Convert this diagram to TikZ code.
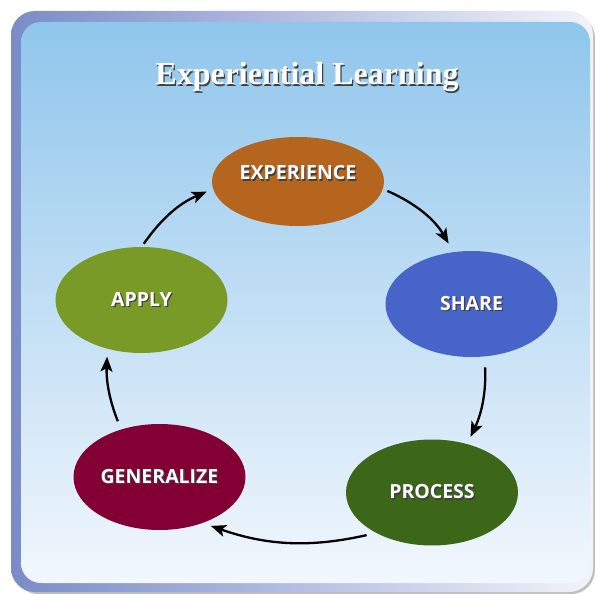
\documentclass[tikz,border=0pt]{standalone}
\usepackage{fontspec}
\setmainfont{Liberation Serif}
\newfontfamily\stagefont{Open Sans}
\usetikzlibrary{arrows.meta,shapes.geometric}

\definecolor{expcol}{RGB}{181,101,29}
\definecolor{sharecol}{RGB}{71,101,200}
\definecolor{proccol}{RGB}{60,103,25}
\definecolor{gencol}{RGB}{131,0,52}
\definecolor{applycol}{RGB}{122,154,40}
\definecolor{skytop}{RGB}{144,198,236}
\definecolor{skybot}{RGB}{242,247,253}
\definecolor{frameleft}{RGB}{122,140,200}
\definecolor{frameright}{RGB}{242,243,250}

% white text with a dark drop shadow
\newcommand{\shadowed}[1]{\rlap{\kern1.3pt\raisebox{-1.3pt}{\color{black!75}#1}}#1}

\begin{document}
\begin{tikzpicture}
[
x=1pt, y=1pt,
stage/.style={ellipse, inner sep=0pt, outer sep=0pt, minimum width=172pt, minimum height=106pt,
  text=white, font=\stagefont\bfseries\fontsize{19.5}{22}\selectfont},
arr/.style={line width=2.3pt, -{Stealth[length=15pt, width=12pt, inset=3.5pt]}},
]
\useasboundingbox (0,0) rectangle (595,-594);
% frame and panel
\fill[black!25, rounded corners=24pt] (14,-14) rectangle (595,-594);
\shade[left color=frameleft, right color=frameright, rounded corners=24pt] (11,-11) rectangle (593,-592);
\shade[top color=skytop, bottom color=skybot, rounded corners=20pt] (21,-22) rectangle (590,-583);

\node[text=white, font=\bfseries\fontsize{32}{36}\selectfont] (title) at (307,-78) {\shadowed{Experiential Learning}};

% the five stages
\node[stage, fill=expcol, minimum height=89pt] (exp) at (298,-181.5)
  {\raisebox{8pt}[\height][\depth]{\shadowed{EXPERIENCE}}};
\node[stage, fill=sharecol] (share) at (471.5,-304) {\shadowed{SHARE}};
\node[stage, fill=proccol] (proc) at (432,-492.5) {\shadowed{PROCESS}};
\node[stage, fill=gencol] (gen) at (159.5,-477) {\shadowed{GENERALIZE}};
\node[stage, fill=applycol] (apply) at (141.5,-300) {\shadowed{APPLY}};

% the cycle
\draw[arr, shorten <=5pt, shorten >=10pt] (exp.-5) to[bend left=18] (share.109);
\draw[arr, shorten <=11pt, shorten >=8pt] (share.-76) to[bend left=14] (proc.54);
\draw[arr, shorten <=10pt, shorten >=9pt] (proc.216) to[bend left=16] (gen.-47);
\draw[arr, shorten <=9pt, shorten >=8pt] (gen.129) to[bend left=12] (apply.235);
\draw[arr, shorten <=4pt, shorten >=7pt] (apply.90) to[bend left=16] (exp.185);
\end{tikzpicture}
\end{document}
